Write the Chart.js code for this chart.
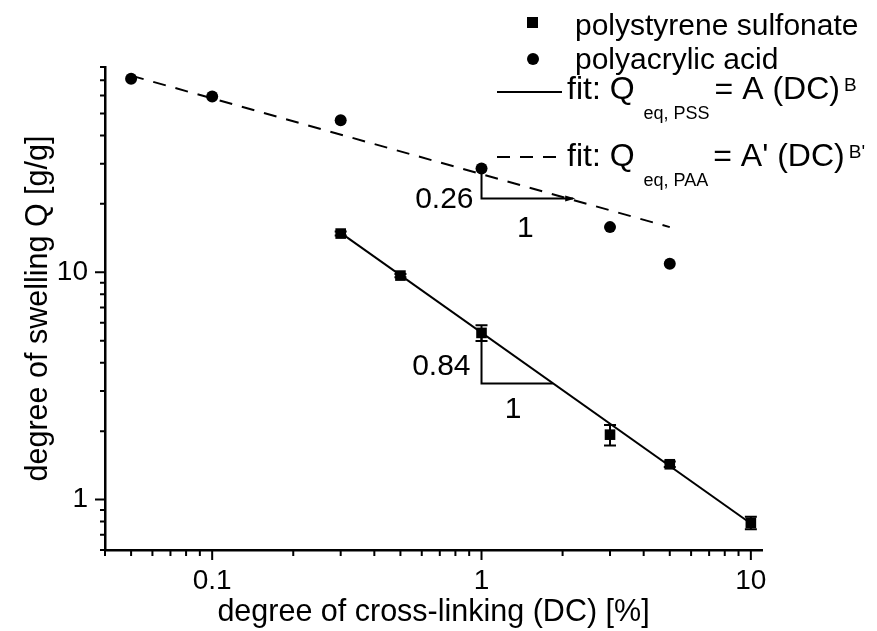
<!DOCTYPE html>
<html>
<head>
<meta charset="utf-8">
<script src="https://cdn.jsdelivr.net/npm/chart.js@4.4.0/dist/chart.umd.min.js"></script>
<style>
  html, body { margin: 0; padding: 0; background: #fff; }
  #wrap { width: 877px; height: 631px; }
</style>
</head>
<body>
<div id="wrap"><canvas id="chart" width="877" height="631"></canvas></div>
<script>
// degree of cross-linking DC [%] vs. degree of swelling Q [g/g]
const pssDC = [0.3, 0.5, 1, 3, 5, 10];
const pssQ = [14.8, 9.67, 5.41, 1.93, 1.43, 0.79];
const pssErr = [0.3, 0.15, 0.43, 0.2, 0.04, 0.05];

const paaDC = [0.05, 0.1, 0.3, 1, 3, 5];
const paaQ = [71.1, 59.4, 46.7, 28.6, 15.8, 10.9];

// fit lines (end points)
const pssFitDC = [0.3, 10];
const pssFitQ = [14.9, 0.785];
const paaFitDC = [0.05, 5];
const paaFitQ = [73.3, 15.8];

// slope triangles
const pssTriDC = [1, 1, 1.84];
const pssTriQ = [5.41, 3.24, 3.24];
const paaTriDC = [1, 1, 2.19];
const paaTriQ = [28.6, 21.1, 21.1];
const triLabels = ['0.84', '1', '0.26', '1'];

const xTickLabels = [0.1, 1, 10];
const yTickLabels = [1, 10];

const FONT = '"Liberation Sans", Arial, Helvetica, sans-serif';
const toXY = (xs, ys) => xs.map((x, i) => ({ x, y: ys[i] }));
const isDecade = (v) => Math.abs(Math.log10(v) - Math.round(Math.log10(v))) < 1e-6;

// Keep only the 1..9 x 10^n ticks (drops the extra tick Chart.js adds at max).
const cleanLogTicks = (scale) => {
  scale.ticks = scale.ticks.filter(t => {
    const m = t.value / Math.pow(10, Math.floor(Math.log10(t.value) + 1e-9));
    return Math.abs(m - Math.round(m)) < 1e-6 && t.value <= scale.max + 1e-9;
  });
};

// Draws outward tick marks, long on decades, short otherwise.
const tickMarksPlugin = {
  id: 'tickMarks',
  afterDraw(chart) {
    const { ctx, chartArea, scales: { x, y } } = chart;
    ctx.save();
    ctx.strokeStyle = '#000';
    ctx.lineWidth = 2;
    ctx.beginPath();
    x.ticks.forEach(t => {
      const px = x.getPixelForValue(t.value);
      ctx.moveTo(px, chartArea.bottom);
      ctx.lineTo(px, chartArea.bottom + (isDecade(t.value) ? 10 : 6));
    });
    y.ticks.forEach(t => {
      const py = y.getPixelForValue(t.value);
      ctx.moveTo(chartArea.left, py);
      ctx.lineTo(chartArea.left - (isDecade(t.value) ? 10 : 5), py);
    });
    ctx.stroke();
    ctx.restore();
  }
};

// Error bars on the PSS points.
const errorBarsPlugin = {
  id: 'errorBars',
  afterDatasetsDraw(chart) {
    const { ctx, scales: { x, y } } = chart;
    ctx.save();
    ctx.strokeStyle = '#000';
    ctx.lineWidth = 2;
    ctx.beginPath();
    pssDC.forEach((dc, i) => {
      const px = x.getPixelForValue(dc);
      const top = y.getPixelForValue(pssQ[i] + pssErr[i]);
      const bot = y.getPixelForValue(pssQ[i] - pssErr[i]);
      ctx.moveTo(px, top); ctx.lineTo(px, bot);
      ctx.moveTo(px - 6, top); ctx.lineTo(px + 6, top);
      ctx.moveTo(px - 6, bot); ctx.lineTo(px + 6, bot);
    });
    ctx.stroke();
    ctx.restore();
  }
};

// Slope labels next to the triangles, plus the small arrow tip on the PAA one.
const slopeLabelsPlugin = {
  id: 'slopeLabels',
  afterDatasetsDraw(chart) {
    const { ctx, scales: { x, y } } = chart;
    ctx.save();
    ctx.fillStyle = '#000';
    ctx.font = `30px ${FONT}`;
    ctx.textBaseline = 'alphabetic';
    const pssCorner = { x: x.getPixelForValue(pssTriDC[1]), y: y.getPixelForValue(pssTriQ[1]) };
    const pssEnd = x.getPixelForValue(pssTriDC[2]);
    const paaCorner = { x: x.getPixelForValue(paaTriDC[1]), y: y.getPixelForValue(paaTriQ[1]) };
    const paaEnd = x.getPixelForValue(paaTriDC[2]);
    ctx.textAlign = 'right';
    ctx.fillText(triLabels[0], pssCorner.x - 11, pssCorner.y - 9);
    ctx.fillText(triLabels[2], paaCorner.x - 8, paaCorner.y + 9);
    ctx.textAlign = 'center';
    ctx.fillText(triLabels[1], (pssCorner.x + pssEnd) / 2 - 4, pssCorner.y + 34);
    ctx.fillText(triLabels[3], (paaCorner.x + paaEnd) / 2 - 2, paaCorner.y + 38);
    ctx.beginPath();
    ctx.moveTo(paaEnd + 2, paaCorner.y);
    ctx.lineTo(paaEnd - 8, paaCorner.y - 3);
    ctx.lineTo(paaEnd - 8, paaCorner.y + 3);
    ctx.closePath();
    ctx.fill();
    ctx.restore();
  }
};

// Text with sub/superscripts drawn piece by piece: [text, size, dy, gapBefore].
const drawRich = (ctx, x, baseline, parts) => {
  let cx = x;
  parts.forEach(([text, size, dy, gap]) => {
    cx += gap || 0;
    ctx.font = `${size}px ${FONT}`;
    ctx.fillText(text, cx, baseline + dy);
    cx += ctx.measureText(text).width;
  });
};

const legendPlugin = {
  id: 'customLegend',
  afterDraw(chart) {
    const { ctx } = chart;
    ctx.save();
    ctx.fillStyle = '#000';
    ctx.strokeStyle = '#000';
    ctx.textAlign = 'left';
    ctx.textBaseline = 'alphabetic';

    ctx.fillRect(527, 17, 11, 11);
    ctx.beginPath();
    ctx.arc(533, 59, 6, 0, Math.PI * 2);
    ctx.fill();

    ctx.lineWidth = 2;
    ctx.beginPath();
    ctx.moveTo(497, 92); ctx.lineTo(562, 92);
    ctx.stroke();
    ctx.setLineDash([13, 10]);
    ctx.beginPath();
    ctx.moveTo(497, 157); ctx.lineTo(562, 157);
    ctx.stroke();
    ctx.setLineDash([]);

    ctx.font = `30px ${FONT}`;
    ctx.fillText('polystyrene sulfonate', 575, 35);
    ctx.fillText('polyacrylic acid', 575, 69);
    drawRich(ctx, 567, 99, [['fit: Q', 32, 0], ['eq, PSS', 18, 20, 9], ['= A (DC)', 32, 0, 5], ['B', 19, -8, 4]]);
    drawRich(ctx, 567, 166, [['fit: Q', 32, 0], ['eq, PAA', 18, 20, 9], ["= A' (DC)", 32, 0, 5], ["B'", 19, -8, 4]]);
    ctx.restore();
  }
};

const lineStyle = { showLine: true, pointRadius: 0, borderColor: '#000', borderWidth: 2, fill: false };

new Chart(document.getElementById('chart'), {
  type: 'scatter',
  data: {
    datasets: [
      { label: 'PSS fit', data: toXY(pssFitDC, pssFitQ), ...lineStyle },
      { label: 'PAA fit', data: toXY(paaFitDC, paaFitQ), ...lineStyle, borderDash: [13, 10] },
      { label: 'PSS slope', data: toXY(pssTriDC, pssTriQ), ...lineStyle },
      { label: 'PAA slope', data: toXY(paaTriDC, paaTriQ), ...lineStyle },
      {
        label: 'polystyrene sulfonate', data: toXY(pssDC, pssQ),
        pointStyle: 'rect', pointRadius: 7.5, backgroundColor: '#000', borderColor: '#000', borderWidth: 0
      },
      {
        label: 'polyacrylic acid', data: toXY(paaDC, paaQ),
        pointStyle: 'circle', pointRadius: 6, backgroundColor: '#000', borderColor: '#000', borderWidth: 0
      }
    ]
  },
  options: {
    responsive: false,
    animation: false,
    events: [],
    layout: { padding: { top: 67, right: 115, left: 0, bottom: 0 } },
    plugins: { legend: { display: false }, tooltip: { enabled: false } },
    scales: {
      x: {
        type: 'logarithmic',
        min: 0.04,
        max: 11,
        afterBuildTicks: cleanLogTicks,
        afterFit: (s) => { s.height = 81; },
        grid: { display: true, drawOnChartArea: false, tickLength: 10, tickColor: 'rgba(0,0,0,0)' },
        border: { display: true, color: '#000', width: 2.5 },
        ticks: {
          autoSkip: false, maxRotation: 0, padding: 4, color: '#000',
          font: { family: FONT, size: 28 },
          callback: (v) => xTickLabels.some(t => Math.abs(t - v) < 1e-9) ? String(v) : ''
        },
        title: {
          display: true, text: 'degree of cross-linking (DC) [%]', color: '#000',
          font: { family: FONT, size: 30.5 }, padding: { top: 0, bottom: 0 }
        }
      },
      y: {
        type: 'logarithmic',
        min: 0.6,
        max: 80,
        afterBuildTicks: cleanLogTicks,
        afterFit: (s) => { s.width = 105; },
        grid: { display: true, drawOnChartArea: false, tickLength: 10, tickColor: 'rgba(0,0,0,0)' },
        border: { display: true, color: '#000', width: 2.5 },
        ticks: {
          autoSkip: false, padding: 7, color: '#000',
          font: { family: FONT, size: 28 },
          callback: (v) => yTickLabels.some(t => Math.abs(t - v) < 1e-9) ? String(v) : ''
        },
        title: {
          display: true, text: 'degree of swelling Q [g/g]', color: '#000',
          font: { family: FONT, size: 30.5 }, padding: { top: 20, bottom: 0 }
        }
      }
    }
  },
  plugins: [tickMarksPlugin, errorBarsPlugin, slopeLabelsPlugin, legendPlugin]
});
</script>
</body>
</html>
